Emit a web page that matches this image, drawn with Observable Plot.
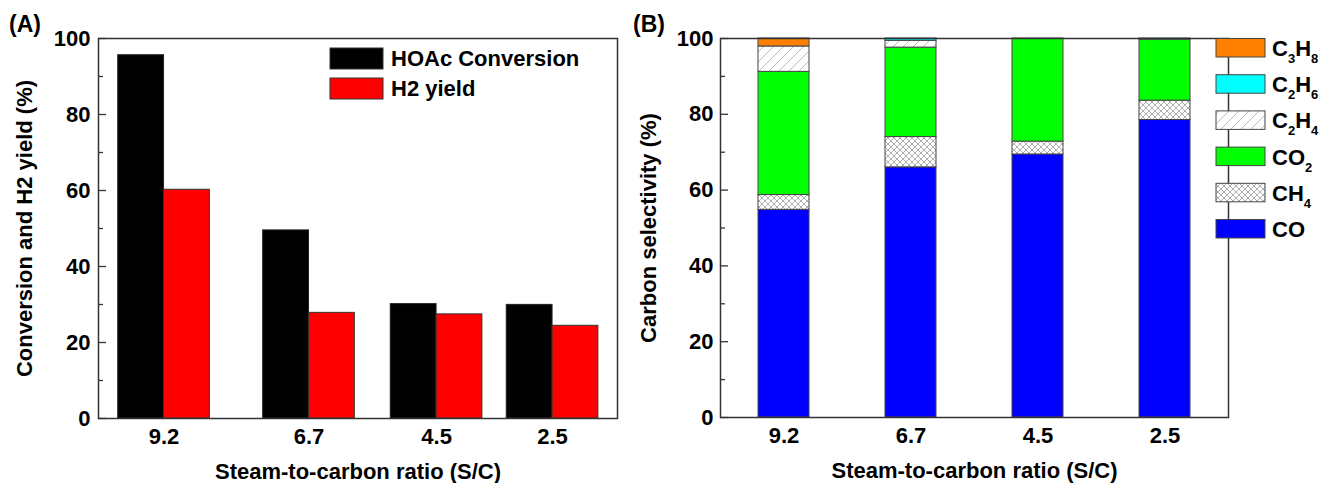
<!DOCTYPE html>
<html>
<head>
<meta charset="utf-8">
<script src="https://cdn.jsdelivr.net/npm/d3@7"></script>
<script src="https://cdn.jsdelivr.net/npm/@observablehq/plot@0.6"></script>
<style>
  body { margin: 0; background: #fff; }
  #wrap { position: relative; width: 1320px; height: 483px; overflow: hidden; font-family: "Liberation Sans", Arial, sans-serif; font-weight: bold; }
  #wrap svg.plot-svg { position: absolute; top: 0; max-width: none; }
</style>
</head>
<body>
<svg width="0" height="0" style="position:absolute">
  <defs>
    <pattern id="hatchCH4" width="6" height="6" patternUnits="userSpaceOnUse">
      <rect width="6" height="6" fill="#fff"/>
      <path d="M0,0 L6,6 M6,0 L0,6" stroke="#9a9a9a" stroke-width="0.8"/>
    </pattern>
    <pattern id="hatchC2H4" width="10" height="10" patternUnits="userSpaceOnUse">
      <rect width="10" height="10" fill="#fff"/>
      <path d="M-1,11 L11,-1 M-6,6 L6,-6 M4,16 L16,4" stroke="#b5b5b5" stroke-width="0.9"/>
    </pattern>
  </defs>
</svg>
<div id="wrap"></div>
<script>
// ---------- Data ----------
// Panel A
const scRatios = [9.2, 6.7, 4.5, 2.5];
const hoacConversion = [95.6, 49.5, 30.1, 29.9];
const h2Yield = [60.2, 27.8, 27.4, 24.4];
const seriesA = ["HOAc Conversion", "H2 yield"];

// Panel B (carbon selectivity, %)
const categoriesB = ["9.2", "6.7", "4.5", "2.5"];
const species = ["CO", "CH4", "CO2", "C2H4", "C2H6", "C3H8"];
const selCO   = [54.8, 66.0, 69.4, 78.5];
const selCH4  = [3.9, 8.0, 3.4, 5.1];
const selCO2  = [32.5, 23.6, 27.2, 16.1];
const selC2H4 = [6.7, 1.8, 0, 0.3];
const selC2H6 = [0, 0.6, 0, 0];
const selC3H8 = [2.1, 0, 0, 0];

const yTicks = [0, 20, 40, 60, 80, 100];
const yMinor = [10, 30, 50, 70, 90];

// ---------- Build tables ----------
const dataA = scRatios.map((sc, i) => ({sc, conv: hoacConversion[i], h2: h2Yield[i]}));
const selBySpecies = [selCO, selCH4, selCO2, selC2H4, selC2H6, selC3H8];
const dataB = [];
categoriesB.forEach((c, i) => {
  species.forEach((s, j) => {
    const v = selBySpecies[j][i];
    if (v > 0) dataB.push({cat: c, species: s, value: v});
  });
});

const FONT = "'Liberation Sans', Arial, sans-serif";
const styleObj = {fontFamily: FONT, fontSize: "22px", fontWeight: "bold", color: "#000", background: "transparent", overflow: "visible"};
const frameColor = "#333";

// ---------- Panel A ----------
const WA = 630, HA = 483, mLA = 98, mRA = 13, mTA = 38, mBA = 65;
const fwA = WA - mLA - mRA;
const barW = 0.79;
const plotA = Plot.plot({
  width: WA, height: HA,
  marginLeft: mLA, marginRight: mRA, marginTop: mTA, marginBottom: mBA,
  style: styleObj,
  x: {type: "linear", domain: [10.33, 1.38]},
  y: {domain: [0, 100]},
  marks: [
    Plot.rectY(dataA, {x1: d => d.sc + barW, x2: "sc", y1: 0, y2: "conv", fill: "#000", stroke: "#222", strokeWidth: 1}),
    Plot.rectY(dataA, {x1: d => d.sc - barW, x2: "sc", y1: 0, y2: "h2", fill: "#ff0000", stroke: "#333", strokeWidth: 1}),
    Plot.ruleY(yTicks, {insetRight: fwA - 8, stroke: frameColor, strokeWidth: 1.3}),
    Plot.ruleY(yMinor, {insetRight: fwA - 5, stroke: frameColor, strokeWidth: 1.3}),
    Plot.frame({stroke: frameColor, strokeWidth: 1.5}),
    Plot.axisY({ticks: yTicks, tickSize: 0, tickPadding: 8, label: "Conversion and H2 yield (%)", labelAnchor: "center", labelArrow: "none", labelOffset: 82}),
    Plot.axisX({ticks: scRatios, tickSize: 0, tickPadding: 10, tickFormat: d3.format(".1f"), label: "Steam-to-carbon ratio (S/C)", labelAnchor: "center", labelArrow: "none", labelOffset: 60})
  ]
});
plotA.classList.add("plot-svg");
plotA.style.left = "0px";

// ---------- Panel B ----------
const WB = 690, HB = 483, mLB = 90, mRB = 92, mTB = 38, mBB = 66;
const fwB = WB - mLB - mRB;
const fillsB = ["#0000ff", "url(#hatchCH4)", "#00ff00", "url(#hatchC2H4)", "#00ffff", "#ff8000"];
const plotB = Plot.plot({
  width: WB, height: HB,
  marginLeft: mLB, marginRight: mRB, marginTop: mTB, marginBottom: mBB,
  style: styleObj,
  x: {type: "band", domain: categoriesB, paddingInner: 0.6, paddingOuter: 0.3},
  y: {domain: [0, 100]},
  color: {domain: species, range: fillsB},
  marks: [
    Plot.barY(dataB, {x: "cat", y: "value", fill: "species", stroke: "#444", strokeWidth: 1}),
    Plot.ruleY(yTicks, {insetRight: fwB - 8, stroke: frameColor, strokeWidth: 1.3}),
    Plot.ruleY(yMinor, {insetRight: fwB - 5, stroke: frameColor, strokeWidth: 1.3}),
    Plot.frame({stroke: frameColor, strokeWidth: 1.5}),
    Plot.axisY({ticks: yTicks, tickSize: 0, tickPadding: 7, label: "Carbon selectivity (%)", labelAnchor: "center", labelArrow: "none", labelOffset: 80}),
    Plot.axisX({tickSize: 0, tickPadding: 10, label: "Steam-to-carbon ratio (S/C)", labelAnchor: "center", labelArrow: "none", labelOffset: 60})
  ]
});
plotB.classList.add("plot-svg");
plotB.style.left = "630px";

const wrap = document.getElementById("wrap");
wrap.appendChild(plotA);
wrap.appendChild(plotB);

// ---------- Overlay: panel labels and legends ----------
const ov = d3.select(wrap).append("svg")
  .attr("width", 1320).attr("height", 483)
  .style("position", "absolute").style("left", 0).style("top", 0)
  .style("font-family", FONT).style("font-weight", "bold");

ov.append("text").attr("x", 9).attr("y", 32).attr("font-size", 23).text("(A)");
ov.append("text").attr("x", 633).attr("y", 32).attr("font-size", 23).text("(B)");

// Legend A
const legA = [{name: seriesA[0], fill: "#000"}, {name: seriesA[1], fill: "#ff0000"}];
legA.forEach((d, i) => {
  const y0 = 48 + i * 30;
  ov.append("rect").attr("x", 330).attr("y", y0).attr("width", 53).attr("height", 21)
    .attr("fill", d.fill).attr("stroke", "#333").attr("stroke-width", 1);
  ov.append("text").attr("x", 391).attr("y", y0 + 10.5).attr("dy", "0.36em")
    .attr("font-size", 22).text(d.name);
});

// Legend B (top to bottom: reverse stacking order)
const legB = species.map((s, j) => ({s, fill: fillsB[j]})).reverse();
const subs = {"C3H8": [["C",""],["3","s"],["H",""],["8","s"]],
              "C2H6": [["C",""],["2","s"],["H",""],["6","s"]],
              "C2H4": [["C",""],["2","s"],["H",""],["4","s"]],
              "CO2":  [["CO",""],["2","s"]],
              "CH4":  [["CH",""],["4","s"]],
              "CO":   [["CO",""]]};
legB.forEach((d, i) => {
  const y0 = 38.5 + i * 36.2;
  ov.append("rect").attr("x", 1216).attr("y", y0).attr("width", 49).attr("height", 18.5)
    .attr("fill", d.fill).attr("stroke", "#444").attr("stroke-width", 1);
  const t = ov.append("text").attr("x", 1272).attr("y", y0 + 9.5).attr("dy", "0.36em").attr("font-size", 22);
  subs[d.s].forEach(([txt, kind]) => {
    if (kind === "s") {
      t.append("tspan").attr("font-size", 13).attr("dy", 7).text(txt);
    } else {
      const ts = t.append("tspan").text(txt);
      if (t.selectAll("tspan").size() > 1) ts.attr("dy", -7);
    }
  });
});
</script>
</body>
</html>
